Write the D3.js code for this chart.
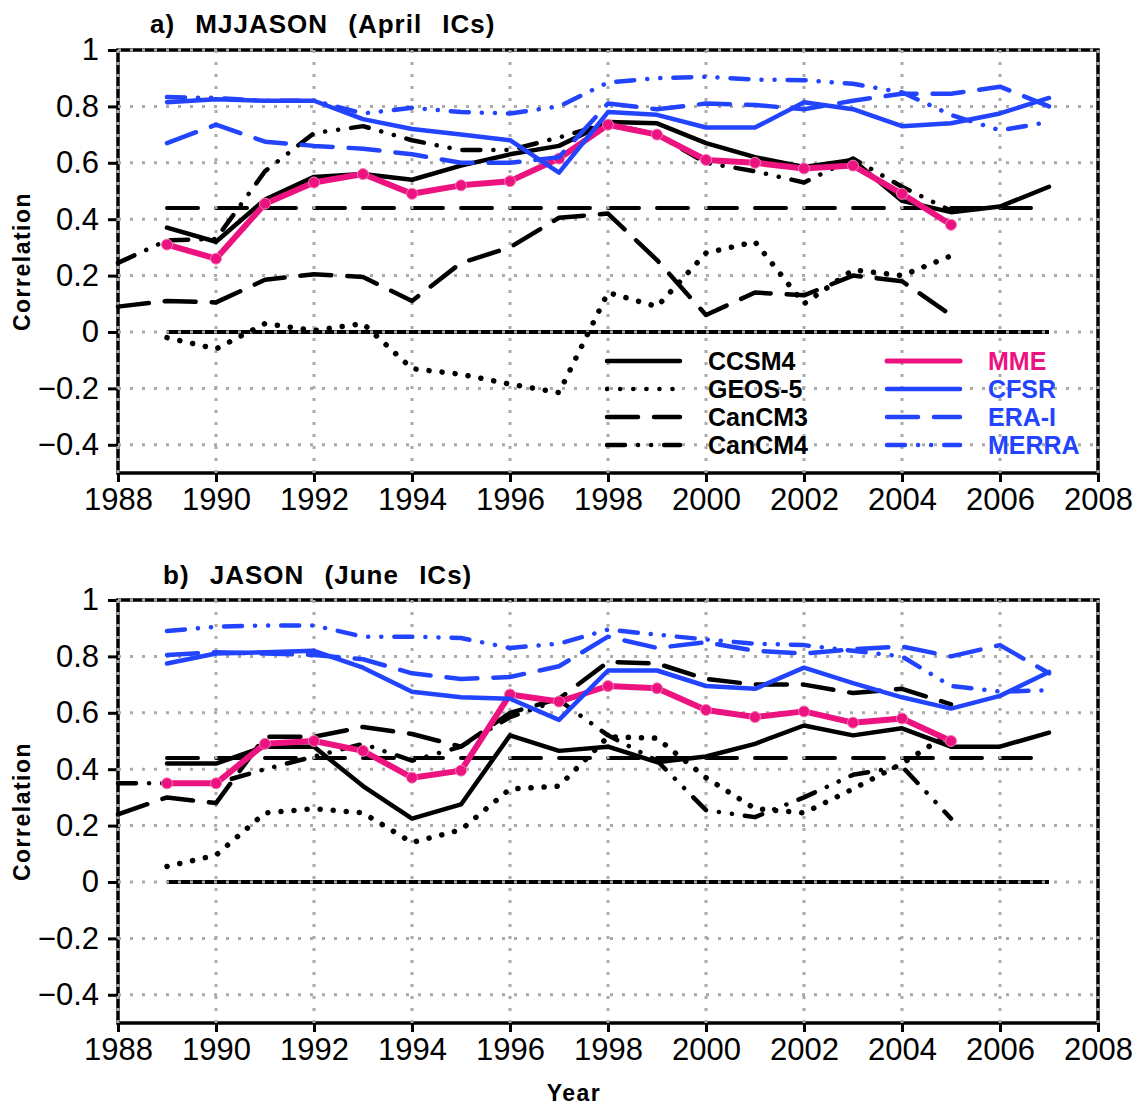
<!DOCTYPE html>
<html>
<head>
<meta charset="utf-8">
<script src="https://cdn.jsdelivr.net/npm/d3@7"></script>
<style>
  body { margin: 0; background: #fff; }
  svg { display: block; }
  text { font-family: "Liberation Sans", Arial, sans-serif; }
</style>
</head>
<body>
<svg id="chart" width="1140" height="1107"></svg>
<script>
const svg = d3.select("#chart");

const years = [1988, 1989, 1990, 1991, 1992, 1993, 1994, 1995, 1996, 1997,
  1998, 1999, 2000, 2001, 2002, 2003, 2004, 2005, 2006, 2007];
const xTicks = [1988, 1990, 1992, 1994, 1996, 1998, 2000, 2002, 2004, 2006, 2008];
const yTicks = [-0.4, -0.2, 0, 0.2, 0.4, 0.6, 0.8, 1];
const seriesNames = ["CCSM4", "GEOS-5", "CanCM3", "CanCM4", "MME", "CFSR", "ERA-I", "MERRA"];
const threshold = 0.44;

// a) MJJASON (April ICs)
const ccsm4A  = [null, .37, .32, .47, .55, .56, .54, .59, .63, .66, .745, .74, .67, .62, .585, .61, .465, .425, .445, .515];
const geos5A  = [null, -.02, -.06, .03, .005, .03, -.13, -.15, -.185, -.215, .14, .09, .28, .32, .10, .22, .20, .27, null, null];
const cancm3A = [.09, .11, .105, .185, .205, .195, .11, .245, .30, .405, .42, .255, .06, .14, .13, .20, .18, .06, null, null];
const cancm4A = [.245, .325, .33, .57, .705, .73, .68, .645, .645, .69, .74, .70, .60, .57, .53, .615, .515, .43, null, null];
const mmeA    = [null, .31, .26, .455, .53, .56, .49, .52, .535, .615, .735, .70, .61, .60, .58, .59, .49, .38, null, null];
const cfsrA   = [null, .815, .825, .82, .82, .755, .72, .70, .68, .565, .78, .77, .725, .725, .815, .79, .73, .74, .775, .83];
const eraA    = [null, .67, .735, .675, .66, .65, .63, .60, .60, .62, .81, .79, .81, .805, .79, .82, .845, .845, .87, .80];
const merraA  = [null, .833, .83, .82, .82, .775, .795, .78, .775, .80, .885, .90, .905, .895, .893, .88, .85, .77, .715, .745];

// b) JASON (June ICs)
const ccsm4B  = [null, .42, .42, .48, .48, .34, .225, .275, .52, .465, .48, .425, .445, .49, .555, .52, .545, .48, .48, .53];
const geos5B  = [null, .055, .095, .245, .26, .245, .14, .185, .33, .34, .515, .51, .37, .26, .245, .33, .42, .53, null, null];
const cancm3B = [.24, .30, .28, .515, .515, .55, .525, .48, .60, .65, .78, .775, .72, .70, .70, .67, .685, .63, null, null];
const cancm4B = [.35, .35, .35, .40, .445, .49, .43, .48, .585, .645, .52, .43, .255, .23, .30, .38, .41, .225, null, null];
const mmeB    = [null, .35, .35, .49, .50, .465, .37, .395, .665, .64, .695, .687, .61, .585, .605, .565, .58, .50, null, null];
const cfsrB   = [null, .775, .81, .815, .82, .76, .675, .655, .65, .575, .75, .75, .695, .685, .76, .705, .655, .615, .66, .745];
const eraB    = [null, .805, .815, .81, .805, .79, .74, .72, .727, .765, .87, .83, .85, .82, .81, .825, .835, .80, .84, .74];
const merraB  = [null, .89, .905, .91, .91, .87, .87, .865, .83, .845, .895, .877, .86, .845, .84, .82, .80, .695, .675, .68];

const BLACK = "#000";
const PINK = "#ec1380";
const BLUE = "#2244ff";

const styles = {
  "CCSM4":  { color: BLACK, width: 4.5 },
  "GEOS-5": { color: BLACK, width: 5.5, dash: "0.1,13" },
  "CanCM3": { color: BLACK, width: 4.5, dash: "31,16" },
  "CanCM4": { color: BLACK, width: 4.5, dash: "18,13,0.1,13,0.1,13" },
  "MME":    { color: PINK, width: 6 },
  "CFSR":   { color: BLUE, width: 4.5 },
  "ERA-I":  { color: BLUE, width: 4.5, dash: "31,16" },
  "MERRA":  { color: BLUE, width: 4.5, dash: "18,13,0.1,13,0.1,13" }
};

const panels = [
  {
    title: "a) MJJASON (April ICs)", titleX: 150, titleY: 33,
    top: 50, bottom: 473, legend: true,
    values: [ccsm4A, geos5A, cancm3A, cancm4A, mmeA, cfsrA, eraA, merraA]
  },
  {
    title: "b) JASON (June ICs)", titleX: 163, titleY: 584,
    top: 600, bottom: 1023, legend: false,
    values: [ccsm4B, geos5B, cancm3B, cancm4B, mmeB, cfsrB, eraB, merraB]
  }
];

const left = 118, right = 1098;
const x = d3.scaleLinear().domain([1988, 2008]).range([left, right]);
const yFmt = d3.format(".1~f");

function drawPanel(p) {
  const y = d3.scaleLinear().domain([-0.5, 1]).range([p.bottom, p.top]);
  const g = svg.append("g");

  // frame
  g.append("rect")
    .attr("x", left).attr("y", p.top)
    .attr("width", right - left).attr("height", p.bottom - p.top)
    .attr("fill", "none").attr("stroke", BLACK).attr("stroke-width", 3.5);

  // zero line and significance threshold
  g.append("line")
    .attr("x1", x(1989)).attr("x2", x(2007))
    .attr("y1", y(0)).attr("y2", y(0))
    .attr("stroke", BLACK).attr("stroke-width", 4);

  g.append("line")
    .attr("x1", x(1989)).attr("x2", x(2007))
    .attr("y1", y(threshold)).attr("y2", y(threshold))
    .attr("stroke", BLACK).attr("stroke-width", 4)
    .attr("stroke-linecap", "round")
    .attr("stroke-dasharray", "31,18");

  // axes
  const yAxis = g.append("g")
    .attr("transform", `translate(${left},0)`)
    .call(d3.axisLeft(y).tickValues(yTicks).tickSize(10).tickPadding(9).tickFormat(yFmt));
  const xAxis = g.append("g")
    .attr("transform", `translate(0,${p.bottom})`)
    .call(d3.axisBottom(x).tickValues(xTicks).tickSize(9).tickPadding(6).tickFormat(d3.format("d")));

  [yAxis, xAxis].forEach(a => {
    a.select(".domain").remove();
    a.selectAll(".tick line").attr("stroke", BLACK).attr("stroke-width", 3);
    a.selectAll(".tick text")
      .attr("fill", BLACK)
      .style("font-size", "31px");
  });

  // dotted grid on top of frame
  g.selectAll(".vgrid")
    .data(xTicks)
    .enter()
    .append("line")
    .attr("x1", d => x(d)).attr("x2", d => x(d))
    .attr("y1", p.top).attr("y2", p.bottom)
    .attr("stroke", "#aaa").attr("stroke-width", 3)
    .attr("stroke-dasharray", "3,9");

  g.selectAll(".hgrid")
    .data(yTicks)
    .enter()
    .append("line")
    .attr("x1", left).attr("x2", right)
    .attr("y1", d => y(d)).attr("y2", d => y(d))
    .attr("stroke", "#aaa").attr("stroke-width", 3)
    .attr("stroke-dasharray", "3,9");

  // series
  const line = d3.line()
    .defined(d => d.v !== null)
    .x(d => x(d.year))
    .y(d => y(d.v));

  seriesNames.forEach((name, i) => {
    const s = styles[name];
    const pts = years.map((yr, j) => ({ year: yr, v: p.values[i][j] }));
    g.append("path")
      .datum(pts)
      .attr("d", line)
      .attr("fill", "none")
      .attr("stroke", s.color)
      .attr("stroke-width", s.width)
      .attr("stroke-linejoin", "round")
      .attr("stroke-linecap", "round")
      .attr("stroke-dasharray", s.dash || null);

    if (name === "MME") {
      g.selectAll(".mme-dot")
        .data(pts.filter(d => d.v !== null))
        .enter()
        .append("circle")
        .attr("cx", d => x(d.year))
        .attr("cy", d => y(d.v))
        .attr("r", 5.5)
        .attr("fill", PINK)
        .attr("stroke", "#f27bb5")
        .attr("stroke-width", 1);
    }
  });

  // title
  svg.append("text")
    .attr("x", p.titleX).attr("y", p.titleY)
    .style("font-size", "26px").style("font-weight", "bold")
    .style("letter-spacing", "1px").style("word-spacing", "12px")
    .text(p.title);

  // y label
  svg.append("text")
    .attr("transform", `translate(30,${(p.top + p.bottom) / 2}) rotate(-90)`)
    .attr("text-anchor", "middle")
    .style("font-size", "23px").style("font-weight", "bold")
    .style("letter-spacing", "1.5px")
    .text("Correlation");

  if (p.legend) drawLegend(g);
}

function drawLegend(g) {
  const rowY = [361, 389, 417, 445];
  const cols = [{ x1: 607, x2: 680, tx: 708 }, { x1: 887, x2: 960, tx: 988 }];
  seriesNames.forEach((name, i) => {
    const s = styles[name];
    const col = cols[Math.floor(i / 4)];
    const yy = rowY[i % 4];
    g.append("line")
      .attr("x1", col.x1).attr("x2", col.x2)
      .attr("y1", yy).attr("y2", yy)
      .attr("stroke", s.color)
      .attr("stroke-width", name === "MME" ? 5 : 4.5)
      .attr("stroke-linecap", "round")
      .attr("stroke-dasharray", s.dash || null);
    g.append("text")
      .attr("x", col.tx).attr("y", yy + 9)
      .attr("fill", s.color)
      .style("font-size", "25px").style("font-weight", "bold")
      .text(name);
  });
}

panels.forEach(drawPanel);

svg.append("text")
  .attr("x", 574).attr("y", 1101)
  .attr("text-anchor", "middle")
  .style("font-size", "23px").style("font-weight", "bold")
  .style("letter-spacing", "1.5px")
  .text("Year");
</script>
</body>
</html>
